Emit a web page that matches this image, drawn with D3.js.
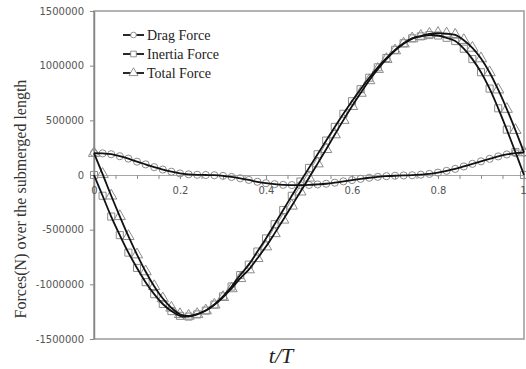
<!DOCTYPE html>
<html>
<head>
<meta charset="utf-8">
<script src="https://cdn.jsdelivr.net/npm/d3@7"></script>
<style>
  body { margin: 0; background: #fff; }
  svg { display: block; }
</style>
</head>
<body>
<div id="chart"></div>
<script>
const width = 526;
const height = 369;

// t/T sampled every 0.02
const tValues = d3.range(51).map((i)=>+(i * 0.02).toFixed(2));

const dragForce = [
  200000, 198000, 190000, 172000, 150000, 122000, 97000, 72000, 50000, 30000,
  14000, 6000, 2000, 0, -2000, -8000, -18000, -30000, -45000, -62000,
  -75000, -84000, -90000, -92000, -93000, -91000, -86000, -80000, -70000, -58000,
  -46000, -35000, -25000, -17000, -11000, -7000, -4000, -2000, 3000, 10000,
  22000, 38000, 56000, 78000, 102000, 125000, 148000, 170000, 188000, 200000,
  205000,
];

const inertiaForce = [
  0, -190000, -380000, -550000, -710000, -850000, -980000, -1090000, -1180000, -1245000,
  -1288000, -1295000, -1275000, -1240000, -1185000, -1110000, -1020000, -915000, -820000, -700000,
  -580000, -450000, -320000, -190000, -60000, 65000, 190000, 315000, 440000, 560000,
  675000, 785000, 890000, 985000, 1070000, 1145000, 1205000, 1250000, 1268000, 1280000,
  1276000, 1255000, 1225000, 1155000, 1060000, 940000, 790000, 610000, 415000, 210000,
  0,
];

const totalForce = [
  200000, 8000, -190000, -378000, -560000, -728000, -883000, -1018000, -1130000, -1215000,
  -1274000, -1289000, -1273000, -1240000, -1187000, -1118000, -1038000, -945000, -865000, -762000,
  -655000, -534000, -410000, -282000, -153000, -26000, 104000, 235000, 370000, 502000,
  629000, 750000, 865000, 968000, 1059000, 1138000, 1201000, 1248000, 1271000, 1290000,
  1298000, 1293000, 1281000, 1233000, 1162000, 1065000, 938000, 780000, 603000, 410000,
  205000,
];

const yTicks = [-1500000, -1000000, -500000, 0, 500000, 1000000, 1500000];
const xTicks = d3.range(21).map((i)=>+(i * 0.05).toFixed(2));
const xLabels = [0, 0.2, 0.4, 0.6, 0.8, 1];

const series = [
  {name: 'Drag Force', values: dragForce, marker: 'circle'},
  {name: 'Inertia Force', values: inertiaForce, marker: 'square'},
  {name: 'Total Force', values: totalForce, marker: 'triangle'},
];

const margin = {top: 11, right: 2, bottom: 30, left: 94};

const x = d3.scaleLinear().domain([0, 1]).range([margin.left, width - margin.right]);
const y = d3.scaleLinear().domain([-1500000, 1500000]).range([height - margin.bottom, margin.top]);

const svg = d3.create('svg')
  .attr('width', width)
  .attr('height', height);

const gray = '#9a9a9a';

// plot frame
svg.append('rect')
  .attr('x', x(0))
  .attr('y', y(1500000))
  .attr('width', x(1) - x(0))
  .attr('height', y(-1500000) - y(1500000))
  .attr('fill', 'none')
  .attr('stroke', gray)
  .attr('stroke-width', 1.5);

// y axis (plain hyphen for negatives, like the original)
const yAxis = svg.append('g')
  .attr('transform', `translate(${x(0)},0)`)
  .call(d3.axisLeft(y).tickValues(yTicks).tickSize(4).tickSizeOuter(0).tickPadding(6).tickFormat((d)=>String(d)));
yAxis.select('.domain').attr('stroke', '#868686').attr('stroke-width', 1.5);
yAxis.selectAll('.tick line').attr('stroke', '#868686');
yAxis.selectAll('.tick text')
  .attr('font-family', 'DejaVu Sans')
  .attr('font-size', 10)
  .attr('fill', '#555');

// x axis on the zero line
const xAxis = svg.append('g')
  .attr('transform', `translate(0,${y(0)})`)
  .call(d3.axisBottom(x).tickValues(xTicks).tickSize(4).tickSizeOuter(0).tickPadding(8)
    .tickFormat((d)=>xLabels.includes(d) ? String(d) : ''));
xAxis.select('.domain').attr('stroke', '#a6a6a6').attr('stroke-width', 1);
xAxis.selectAll('.tick line').attr('stroke', '#8a8a8a');
xAxis.selectAll('.tick text')
  .attr('font-family', 'DejaVu Sans')
  .attr('font-size', 10)
  .attr('fill', '#555');
// last label sits against the right edge
xAxis.selectAll('.tick text').filter((d)=>d === 1)
  .attr('text-anchor', 'end')
  .attr('dx', 2);

const markerPath = {
  circle: d3.symbol(d3.symbolCircle, 40)(),
  square: d3.symbol(d3.symbolSquare, 50)(),
  triangle: d3.symbol(d3.symbolTriangle, 55)(),
};

const line = d3.line()
  .x((d, i)=>x(tValues[i]))
  .y((d)=>y(d))
  .curve(d3.curveCatmullRom);

// markers under the lines
series.forEach((s)=>{
  svg.append('g')
    .selectAll('path')
    .data(s.values)
    .join('path')
    .attr('d', markerPath[s.marker])
    .attr('transform', (d, i)=>`translate(${x(tValues[i])},${y(d)})`)
    .attr('fill', 'none')
    .attr('stroke', '#8c8c8c')
    .attr('stroke-width', 1);
});

series.forEach((s)=>{
  svg.append('path')
    .datum(s.values)
    .attr('d', line)
    .attr('fill', 'none')
    .attr('stroke', '#111')
    .attr('stroke-width', 1.8);
});

// legend
const legend = svg.append('g').attr('transform', 'translate(123,35)');
series.forEach((s, i)=>{
  const row = legend.append('g').attr('transform', `translate(0,${i * 19})`);
  row.append('line')
    .attr('x1', 0).attr('x2', 21)
    .attr('stroke', '#111').attr('stroke-width', 1.8);
  row.append('path')
    .attr('d', markerPath[s.marker])
    .attr('transform', 'translate(10.5,0) scale(0.8)')
    .attr('fill', '#fff')
    .attr('stroke', '#777');
  row.append('text')
    .attr('x', 24)
    .attr('y', 5)
    .attr('font-family', 'Liberation Serif')
    .attr('font-size', 14)
    .attr('fill', '#222')
    .text(s.name);
});

// axis titles
svg.append('text')
  .attr('transform', 'translate(26,199) rotate(-90)')
  .attr('text-anchor', 'middle')
  .attr('font-family', 'Liberation Serif')
  .attr('font-size', 16)
  .attr('fill', '#333')
  .text('Forces(N) over the submerged length');

svg.append('text')
  .attr('x', 281)
  .attr('y', 363)
  .attr('text-anchor', 'middle')
  .attr('font-family', 'Liberation Serif')
  .attr('font-style', 'italic')
  .attr('font-size', 22)
  .attr('fill', '#222')
  .text('t/T');

document.getElementById('chart').appendChild(svg.node());
</script>
</body>
</html>
